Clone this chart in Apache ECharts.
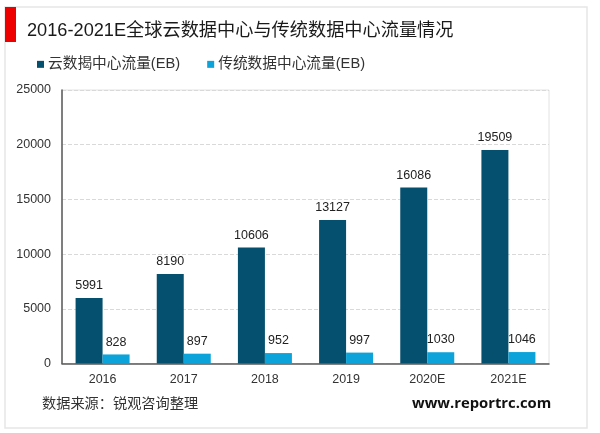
<!DOCTYPE html>
<html><head><meta charset="utf-8">
<style>html,body{margin:0;padding:0;background:#fff}#c{width:600px;height:433px}</style>
<script src="https://cdn.jsdelivr.net/npm/echarts@6/dist/echarts.min.js"></script>
</head><body><div id="c"></div>
<script>
const categories = ['2016','2017','2018','2019','2020E','2021E'];
const cloudTraffic = [5991,8190,10606,13127,16086,19509];
const traditionalTraffic = [828,897,952,997,1030,1046];
const yTicks = {min:0,max:25000,interval:5000};
const legendNames = ['云数揭中心流量(EB)','传统数据中心流量(EB)'];
const font = '"Liberation Sans","Noto Sans CJK SC",sans-serif';
const chart = echarts.init(document.getElementById('c'));
chart.setOption({
  animation:false,
  backgroundColor:'#fff',
  textStyle:{fontFamily:font},
  title:{text:'2016-2021E全球云数据中心与传统数据中心流量情况',left:22,top:17,
    textStyle:{fontFamily:font,fontSize:18.2,fontWeight:'normal',color:'#1a1a1a'}},
  legend:{left:32,top:52,itemWidth:7,itemHeight:7,itemGap:27,icon:'rect',
    textStyle:{fontFamily:font,fontSize:14.7,color:'#333',padding:[0,0,0,-1]},
    data:[legendNames[0],legendNames[1]]},
  grid:{left:62,right:51,top:90,bottom:69.5,show:true,borderColor:'#e2e2e2',borderWidth:1,backgroundColor:'transparent'},
  xAxis:{type:'category',data:categories,
    axisTick:{show:false},
    axisLine:{lineStyle:{color:'#595959',width:1.5}},
    axisLabel:{fontFamily:font,fontSize:12.5,color:'#333',margin:10}},
  yAxis:{type:'value',min:yTicks.min,max:yTicks.max,interval:yTicks.interval,
    axisLine:{show:true,lineStyle:{color:'#595959',width:1.5}},
    axisTick:{show:false},
    axisLabel:{fontFamily:font,fontSize:12.5,color:'#333',margin:11,formatter:v=>String(v)},
    splitLine:{lineStyle:{color:'#d9d9d9',type:'dashed',width:1}}},
  series:[
    {name:legendNames[0],type:'bar',data:cloudTraffic,barWidth:27,barGap:'0%',
     itemStyle:{color:'#04506e'},
     label:{show:true,position:'top',distance:6,fontFamily:font,fontSize:12.5,color:'#222'}},
    {name:legendNames[1],type:'bar',data:traditionalTraffic,barWidth:27,
     itemStyle:{color:'#0ba3d9'},
     label:{show:true,position:'top',distance:6,fontFamily:font,fontSize:12.5,color:'#222'}}
  ],
  graphic:[
    {type:'rect',z:-1,shape:{x:5,y:7,width:582,height:421},style:{fill:'#fff',stroke:'#e6e6e6',lineWidth:1.5}},
    {type:'rect',z:5,shape:{x:5,y:7,width:11,height:35},style:{fill:'#ee0000'}},
    {type:'text',z:5,left:42,top:397,style:{text:'数据来源：锐观咨询整理',fontFamily:font,fontSize:14.2,fill:'#333'}},
    {type:'text',z:5,left:412,top:396,style:{text:'www.reportrc.com',fontFamily:'"Open Sans",sans-serif',fontWeight:'bold',fontSize:14.8,fill:'#111'}}
  ]
});
</script></body></html>
